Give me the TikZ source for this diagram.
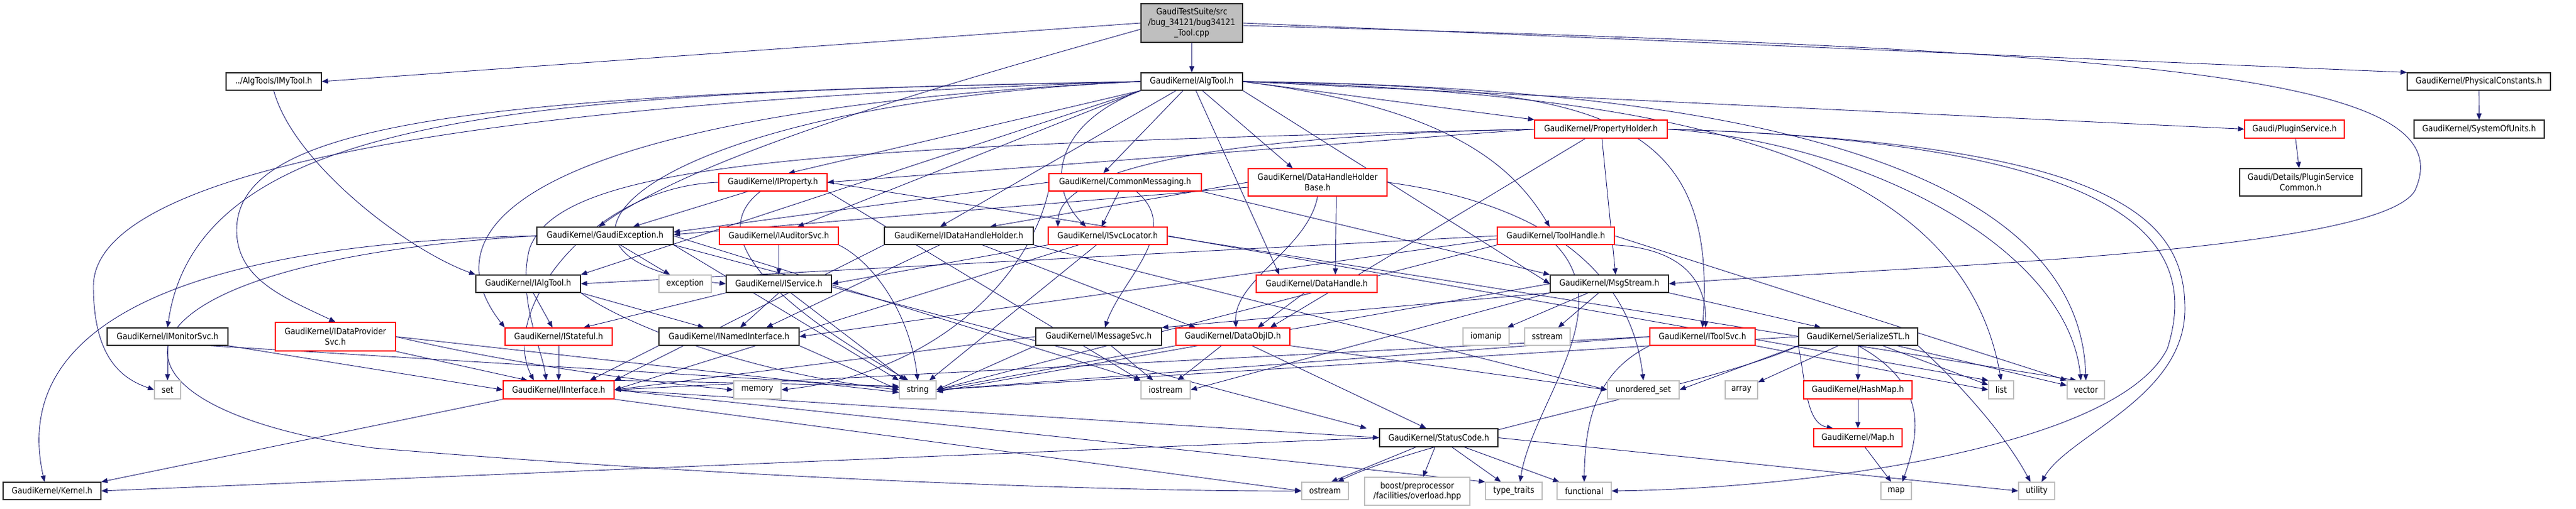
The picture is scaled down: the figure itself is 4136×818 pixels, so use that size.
\documentclass[tikz,border=0pt]{standalone}
\usepackage{fontspec}
\newfontfamily\nodefont[FakeStretch=0.88]{DejaVu Sans}
\usetikzlibrary{arrows.meta,backgrounds}
\definecolor{edgeblue}{HTML}{191970}
\definecolor{sysgray}{HTML}{BFBFBF}
\definecolor{redline}{HTML}{FF0000}
\tikzset{
  nd/.style={rectangle, inner sep=0pt, line width=1.3pt, fill=white, align=center,
    font={\nodefont\fontsize{14}{16.7}\selectfont}},
  blk/.style={nd, draw=black!85},
  redn/.style={nd, draw=redline},
  sysn/.style={nd, draw=sysgray},
  rootn/.style={nd, draw=black!85, fill=sysgray},
  edg/.style={draw=edgeblue, line width=0.9pt, -{Triangle[length=10pt,width=8pt]}}
}
\begin{document}
\begin{tikzpicture}[x=1pt,y=-1pt]
\useasboundingbox (0,0) rectangle (4136,818);
% ---------- nodes ----------
\node[rootn, minimum width=163, minimum height=62] (root) at (1913.5,37) {GaudiTestSuite/src\\/bug\_34121/bug34121\\\_Tool.cpp};
\node[blk, minimum width=153, minimum height=28] (imytool) at (439.5,131) {../AlgTools/IMyTool.h};
\node[blk, minimum width=163, minimum height=28] (algtool) at (1913.5,131) {GaudiKernel/AlgTool.h};
\node[blk, minimum width=230, minimum height=28] (physc) at (3980,131) {GaudiKernel/PhysicalConstants.h};
\node[redn, minimum width=213, minimum height=29] (propholder) at (2570.5,207.5) {GaudiKernel/PropertyHolder.h};
\node[redn, minimum width=160, minimum height=29] (plugin) at (3684,207.5) {Gaudi/PluginService.h};
\node[blk, minimum width=209, minimum height=29] (sysu) at (3980.5,207.5) {GaudiKernel/SystemOfUnits.h};
\node[redn, minimum width=174, minimum height=28] (iprop) at (1241,293) {GaudiKernel/IProperty.h};
\node[redn, minimum width=245, minimum height=28] (commsg) at (1806.5,293) {GaudiKernel/CommonMessaging.h};
\node[redn, minimum width=223, minimum height=44] (dhhb) at (2115.5,293) {GaudiKernel/DataHandleHolder\\Base.h};
\node[blk, minimum width=196, minimum height=44] (pscommon) at (3694,293) {Gaudi/Details/PluginService\\Common.h};
\node[blk, minimum width=219, minimum height=28] (gexc) at (971.5,379) {GaudiKernel/GaudiException.h};
\node[redn, minimum width=191, minimum height=28] (iaud) at (1250.5,379) {GaudiKernel/IAuditorSvc.h};
\node[blk, minimum width=239, minimum height=28] (idhh) at (1539.5,379) {GaudiKernel/IDataHandleHolder.h};
\node[redn, minimum width=191, minimum height=28] (isvcl) at (1778.5,379) {GaudiKernel/ISvcLocator.h};
\node[redn, minimum width=188, minimum height=28] (toolh) at (2498,379) {GaudiKernel/ToolHandle.h};
\node[blk, minimum width=168, minimum height=28] (ialgt) at (848,456) {GaudiKernel/IAlgTool.h};
\node[sysn, minimum width=84, minimum height=28] (exc) at (1100,456) {exception};
\node[blk, minimum width=169, minimum height=28] (iserv) at (1250.5,456) {GaudiKernel/IService.h};
\node[redn, minimum width=194, minimum height=28] (dhandle) at (2114,456) {GaudiKernel/DataHandle.h};
\node[blk, minimum width=190, minimum height=28] (msgs) at (2584,456) {GaudiKernel/MsgStream.h};
\node[blk, minimum width=194, minimum height=28] (imon) at (269,541) {GaudiKernel/IMonitorSvc.h};
\node[redn, minimum width=193, minimum height=46] (idps) at (538.5,541) {GaudiKernel/IDataProvider\\Svc.h};
\node[redn, minimum width=172, minimum height=28] (istat) at (897,541) {GaudiKernel/IStateful.h};
\node[blk, minimum width=225, minimum height=28] (inamed) at (1170.5,541) {GaudiKernel/INamedInterface.h};
\node[blk, minimum width=202, minimum height=28] (imsgsvc) at (1764,541) {GaudiKernel/IMessageSvc.h};
\node[redn, minimum width=183, minimum height=28] (dobjid) at (1979.5,541) {GaudiKernel/DataObjID.h};
\node[sysn, minimum width=74, minimum height=28] (iomanip) at (2386,541) {iomanip};
\node[sysn, minimum width=73, minimum height=28] (sstream) at (2484.5,541) {sstream};
\node[redn, minimum width=169, minimum height=28] (itoolsvc) at (2733.5,541) {GaudiKernel/IToolSvc.h};
\node[blk, minimum width=191, minimum height=28] (sstl) at (2983.5,541) {GaudiKernel/SerializeSTL.h};
\node[sysn, minimum width=42, minimum height=29] (set) at (269,626.5) {set};
\node[redn, minimum width=178, minimum height=29] (iint) at (897,626.5) {GaudiKernel/IInterface.h};
\node[sysn, minimum width=76, minimum height=29] (memory) at (1216,626.5) {memory};
\node[sysn, minimum width=59, minimum height=29] (string) at (1473.5,626.5) {string};
\node[sysn, minimum width=79, minimum height=29] (iostream) at (1871.5,626.5) {iostream};
\node[sysn, minimum width=115, minimum height=29] (uset) at (2638.5,626.5) {unordered\_set};
\node[sysn, minimum width=52, minimum height=29] (array) at (2796,626.5) {array};
\node[redn, minimum width=174, minimum height=29] (hashmap) at (2983,626.5) {GaudiKernel/HashMap.h};
\node[sysn, minimum width=40, minimum height=29] (list) at (3213,626.5) {list};
\node[sysn, minimum width=60, minimum height=29] (vector) at (3349,626.5) {vector};
\node[blk, minimum width=190, minimum height=29] (statusc) at (2310,703.5) {GaudiKernel/StatusCode.h};
\node[redn, minimum width=142, minimum height=29] (mapH) at (2983,703.5) {GaudiKernel/Map.h};
\node[blk, minimum width=157, minimum height=28] (kernel) at (83.5,789) {GaudiKernel/Kernel.h};
\node[sysn, minimum width=75, minimum height=28] (ostream) at (2127.5,789) {ostream};
\node[sysn, minimum width=169, minimum height=45] (boost) at (2275.5,789.5) {boost/preprocessor\\/facilities/overload.hpp};
\node[sysn, minimum width=91, minimum height=28] (typetr) at (2430.5,789) {type\_traits};
\node[sysn, minimum width=87, minimum height=28] (functional) at (2543.5,789) {functional};
\node[sysn, minimum width=49, minimum height=28] (map) at (3044.5,789) {map};
\node[sysn, minimum width=58, minimum height=28] (utility) at (3270,789) {utility};
% ---------- edges ----------
\begin{scope}[on background layer]
% root
\draw[edg] (root.west) -- (imytool.east);
\draw[edg] (root) -- (algtool);
\draw[edg] ([yshift=-10pt]root.west) .. controls (1500,140) and (1120,250) .. ([xshift=-10pt]gexc.north);
\draw[edg] (root.east) -- (physc.north west);
\draw[edg] ([yshift=-4pt]root.east) .. controls (3450,80) and (3950,120) .. (3880,300) .. controls (3850,410) and (3000,430) .. (msgs.east);
\draw[edg] (imytool.south) .. controls (470,260) and (650,400) .. (ialgt.north west);
\draw[edg] (physc) -- (sysu);
\draw[edg] (plugin) -- (pscommon);
% AlgTool
\draw[edg] (algtool.east) -- (propholder.north west);
\draw[edg] (algtool.east) -- (plugin.west);
\draw[edg] (algtool.south west) -- ([xshift=25pt]iprop.north);
\draw[edg] (algtool) -- ([xshift=-35pt]commsg.north);
\draw[edg] (algtool) -- ([xshift=-40pt]dhhb.north);
\draw[edg] (algtool.south west) -- ([xshift=30pt]iaud.north);
\draw[edg] (algtool) -- ([xshift=-30pt]idhh.north);
\draw[edg] (algtool.south west) .. controls (1690,200) and (1680,300) .. ([xshift=-35pt]isvcl.north);
\draw[edg] (algtool.east) .. controls (2300,170) and (2420,250) .. ([xshift=-10pt]toolh.north);
\draw[edg] (algtool.south west) -- (ialgt.north east);
\draw[edg] (algtool.west) .. controls (1000,170) and (800,420) .. (iserv.west);
\draw[edg] (algtool.west) .. controls (900,150) and (320,170) .. (imon.north);
\draw[edg] (algtool.west) .. controls (800,150) and (380,190) .. (380,370) .. controls (380,450) and (460,480) .. (idps.north);
\draw[edg] (algtool.west) .. controls (1000,170) and (650,320) .. (istat.north west);
\draw[edg] (algtool.east) .. controls (2550,140) and (2760,170) .. (itoolsvc.north);
\draw[edg] (algtool) -- ([xshift=-60pt]dhandle.north);
\draw[edg] (algtool.east) .. controls (2700,150) and (3150,250) .. (list.north);
\draw[edg] (algtool.east) .. controls (2900,140) and (3340,300) .. (vector.north);
\draw[edg] (algtool.west) .. controls (600,170) and (150,300) .. (150,460) .. controls (150,580) and (200,610) .. (set.west);
\draw[edg] (algtool.south east) -- (msgs.west);
% PropertyHolder
\draw[edg] (propholder.west) -- (iprop.east);
\draw[edg] (propholder.west) .. controls (1900,220) and (1700,280) .. ([xshift=-80pt]isvcl.north);
\draw[edg] (propholder) -- ([xshift=10pt]msgs.north);
\draw[edg] (propholder) -- ([xshift=60pt]dobjid.north);
\draw[edg] (propholder.east) .. controls (3450,230) and (3530,400) .. (3480,560) .. controls (3400,720) and (2900,785) .. (functional.east);
\draw[edg] (propholder.east) .. controls (3400,230) and (3510,350) .. (3508,500) .. controls (3505,640) and (3320,700) .. ([xshift=8pt]utility.north);
\draw[edg] (propholder.east) .. controls (3000,230) and (3320,400) .. ([xshift=-8pt]vector.north);
\draw[edg] (propholder.west) .. controls (1300,235) and (900,260) .. (850,400) .. controls (830,480) and (870,560) .. ([xshift=-20pt]iint.north);
% IProperty
\draw[edg] ([xshift=-40pt]iprop.south) -- ([xshift=45pt]gexc.north);
\draw[edg] (iprop.west) .. controls (950,300) and (800,500) .. ([xshift=-40pt]iint.north);
\draw[edg] ([xshift=-20pt]iprop.south) .. controls (1100,400) and (1350,550) .. ([xshift=-15pt]string.north);
\draw[edg] (iprop.south east) -- (iostream.north west);
\draw[edg] (iprop.east) -- ([xshift=-15pt]vector.north);
% CommonMessaging
\draw[edg] ([xshift=-10pt]commsg.south) -- ([xshift=-10pt]isvcl.north);
\draw[edg] (commsg.west) -- ([yshift=6pt]gexc.east);
\draw[edg] (commsg) .. controls (1900,370) and (1800,450) .. ([xshift=10pt]imsgsvc.north);
\draw[edg] (commsg.south east) -- (msgs.north west);
\draw[edg] (commsg.south west) .. controls (1650,450) and (1500,600) .. (memory.east);
% DataHandleHolderBase
\draw[edg] (dhhb.west) -- ([xshift=50pt]idhh.north);
\draw[edg] ([yshift=-8pt]dhhb.west) -- ([yshift=2pt]gexc.east);
\draw[edg] ([xshift=30pt]dhhb.south) -- ([xshift=30pt]dhandle.north);
\draw[edg] (dhhb.south) .. controls (2100,400) and (1980,450) .. ([xshift=5pt]dobjid.north);
\draw[edg] (dhhb.east) .. controls (2500,330) and (2620,450) .. (uset.north);
% IDataHandleHolder
\draw[edg] (idhh.south west) -- (iint.north east);
\draw[edg] (idhh) -- ([xshift=60pt]inamed.north);
\draw[edg] (idhh) -- ([xshift=-60pt]dobjid.north);
\draw[edg] (idhh.south east) -- (uset.west);
% ISvcLocator
\draw[edg] (isvcl) -- (iint.east);
\draw[edg] (isvcl) -- (string);
\draw[edg] (isvcl.east) -- (list.north west);
\draw[edg] (isvcl.south west) -- (iserv.east);
% ToolHandle
\draw[edg] (toolh.west) -- (ialgt.east);
\draw[edg] (toolh.south east) .. controls (2700,400) and (2740,450) .. ([xshift=5pt]itoolsvc.north);
\draw[edg] ([yshift=-5pt]toolh.west) -- (inamed.east);
\draw[edg] (toolh.south west) -- (string.east);
\draw[edg] (toolh.south) .. controls (2600,500) and (2460,650) .. ([xshift=10pt]typetr.north);
\draw[edg] (toolh.east) -- (vector.north west);
% IAlgTool, IAuditorSvc, IService
\draw[edg] (ialgt) -- ([xshift=-10pt]istat.north);
\draw[edg] (ialgt.south east) -- ([xshift=-40pt]inamed.north);
\draw[edg] (ialgt.south east) .. controls (1000,520) and (1200,600) .. (string.west);
\draw[edg] (iaud) -- (iserv);
\draw[edg] (iaud.south east) .. controls (1400,420) and (1460,500) .. (string.north);
\draw[edg] (iserv.south west) -- ([xshift=40pt]istat.north);
\draw[edg] (iserv.south) -- ([xshift=18pt]inamed.north);
\draw[edg] (iserv) -- (string);
% IStateful, INamedInterface, IMonitorSvc, IDataProviderSvc
\draw[edg] (istat) -- (iint);
\draw[edg] (inamed.south west) -- ([xshift=50pt]iint.north);
\draw[edg] (inamed.south east) -- (string.west);
\draw[edg] (imon.south east) -- (iint.west);
\draw[edg] (imon) -- (set);
\draw[edg] ([xshift=-30pt]imon.south east) -- ([yshift=4pt]string.west);
\draw[edg] (idps.south east) -- ([xshift=-50pt]iint.north);
\draw[edg] (idps.east) -- ([yshift=-4pt]string.west);
\draw[edg] (idps.east) .. controls (800,580) and (1000,610) .. (memory.west);
% IInterface
\draw[edg] (iint.south west) -- (kernel.north east);
\draw[edg] (iint.east) -- (statusc.west);
\draw[edg] (iint.south east) -- (ostream.west);
\draw[edg] (iint.east) -- (typetr.north west);
\draw[edg] (iint.north east) -- ([yshift=6pt]string.west);
% IMessageSvc, DataObjID, DataHandle
\draw[edg] (imsgsvc.west) -- (iint.east);
\draw[edg] (imsgsvc.south west) -- (string.east);
\draw[edg] ([xshift=20pt]imsgsvc.south) -- ([xshift=-20pt]iostream.north);
\draw[edg] (dobjid.south west) -- (string.east);
\draw[edg] (dobjid) -- (iostream);
\draw[edg] (dobjid) -- ([xshift=-20pt]statusc.north);
\draw[edg] (dobjid.south east) -- (uset.west);
\draw[edg] (dhandle) -- ([xshift=40pt]dobjid.north);
% MsgStream
\draw[edg] (msgs.south east) -- ([xshift=-60pt]sstl.north);
\draw[edg] (msgs) -- (iomanip);
\draw[edg] (msgs) -- (sstream);
\draw[edg] (msgs.west) -- ([yshift=-3pt]string.east);
\draw[edg] (msgs.south west) -- (imsgsvc.north east);
\draw[edg] (msgs.south west) -- (iostream.east);
% IToolSvc
\draw[edg] (itoolsvc.west) -- (iint.east);
\draw[edg] (itoolsvc.south west) .. controls (2560,600) and (2545,680) .. (functional.north);
\draw[edg] (itoolsvc.south east) -- (list.west);
\draw[edg] (itoolsvc.west) -- (string.east);
% SerializeSTL
\draw[edg] (sstl) -- (array);
\draw[edg] (sstl) -- (hashmap);
\draw[edg] (sstl.south west) .. controls (2900,620) and (2900,680) .. ([xshift=-40pt]mapH.north);
\draw[edg] (sstl) -- (list);
\draw[edg] (sstl) -- (vector);
\draw[edg] (sstl.south) .. controls (3100,620) and (3080,700) .. ([xshift=10pt]map.north);
\draw[edg] (sstl.south east) .. controls (3150,620) and (3220,700) .. ([xshift=-10pt]utility.north);
\draw[edg] (sstl.south west) -- (uset.east);
\draw[edg] (sstl.south west) .. controls (2750,620) and (2300,700) .. ([xshift=20pt]ostream.north);
\draw[edg] (sstl.west) -- (string.east);
\draw[edg] (hashmap) -- (mapH);
\draw[edg] (mapH) -- ([xshift=-8pt]map.north);
% StatusCode
\draw[edg] (statusc.west) -- (kernel.east);
\draw[edg] (statusc) -- ([xshift=10pt]ostream.north);
\draw[edg] (statusc) -- (boost);
\draw[edg] (statusc) -- (typetr);
\draw[edg] (statusc) -- (functional);
\draw[edg] (statusc.east) -- (utility.west);
% GaudiException
\draw[edg] (gexc.west) .. controls (350,390) and (10,500) .. ([xshift=-12pt]kernel.north);
\draw[edg] (gexc.west) .. controls (150,420) and (100,650) .. (600,720) .. controls (1200,770) and (1800,790) .. (ostream.west);
\draw[edg] (gexc) -- (exc);
\draw[edg] (gexc.south east) -- (string.north west);
\draw[edg] (gexc.south east) -- ([xshift=-20pt]statusc.north west);
\draw[edg] (gexc.east) -- (iostream.north west);
\end{scope}
\end{tikzpicture}
\end{document}
